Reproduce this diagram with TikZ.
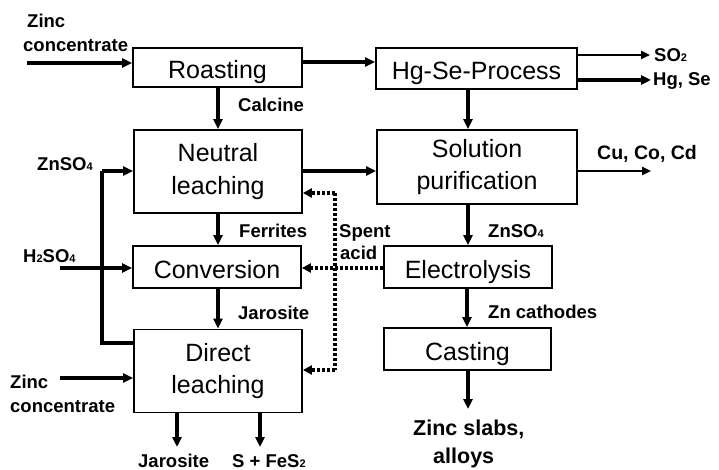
\documentclass[tikz,border=0pt]{standalone}
\usepackage{fontspec}
\setmainfont{Liberation Sans}
\usetikzlibrary{arrows.meta}
\newcommand\mysub[1]{{\fontsize{11}{11}\selectfont #1}}
\begin{document}
\begin{tikzpicture}[x=1pt,y=-1pt,
  box/.style={draw,line width=1.8pt,inner sep=0pt,align=center,
    font=\fontsize{25}{32.5}\selectfont},
  one/.style={text height=22pt,text depth=0pt},
  lbl/.style={inner sep=0pt,anchor=base west,font=\bfseries\fontsize{18.5}{22}\selectfont},
  biglbl/.style={lbl,font=\bfseries\fontsize{21.5}{24}\selectfont},
  flow/.style={line width=3.5pt,-{Triangle[length=10pt,width=9pt]}},
  thinflow/.style={line width=2.5pt,-{Triangle[length=9pt,width=8pt]}},
  plain/.style={line width=3.2pt},
  acid/.style={line width=3.5pt,dash pattern=on 3pt off 2pt,-{Triangle[length=9pt,width=9pt]}},
  acidline/.style={line width=3.5pt,dash pattern=on 3pt off 2pt}
]
\useasboundingbox (0,0) rectangle (719,470);

% boxes
\node[box,one,minimum width=169pt,minimum height=39pt] (roast) at (217.5,67.5) {Roasting};
\node[box,one,minimum width=201pt,minimum height=41pt] (hgse) at (476.5,68.5) {Hg-Se-Process};
\node[box,minimum width=168pt,minimum height=83pt] (neutral) at (218,171.5) {Neutral\\leaching};
\node[box,minimum width=200pt,minimum height=74pt] (solpur) at (477,167) {Solution\\purification};
\node[box,one,minimum width=168pt,minimum height=42pt] (conv) at (217,267) {Conversion};
\node[box,one,minimum width=168pt,minimum height=42pt] (electro) at (468,267) {Electrolysis};
\node[box,minimum width=168pt,minimum height=83pt] (direct) at (218,371) {Direct\\leaching};
\node[box,one,minimum width=167pt,minimum height=42pt] (casting) at (467.5,349) {Casting};

% labels
\node[lbl] (zc1a) at (27,28) {Zinc};
\node[lbl] (zc1b) at (23,52) {concentrate};
\node[lbl] (calcine) at (238,112) {Calcine};
\node[lbl] (so2) at (654,62) {SO\mysub{2}};
\node[lbl] (hgselbl) at (653,86) {Hg, Se};
\node[lbl,font=\bfseries\fontsize{19.5}{22}\selectfont] (cucocd) at (597,160) {Cu, Co, Cd};
\node[lbl] (znso4a) at (37,171) {ZnSO\mysub{4}};
\node[lbl] (ferrites) at (239,237) {Ferrites};
\node[lbl] (spent) at (339,237) {Spent};
\node[lbl] (acidl) at (340,259) {acid};
\node[lbl] (h2so4) at (23,262) {H\mysub{2}SO\mysub{4}};
\node[lbl] (znso4b) at (488,237) {ZnSO\mysub{4}};
\node[lbl] (jar1) at (238,319) {Jarosite};
\node[lbl] (zncath) at (488,318) {Zn cathodes};
\node[lbl] (zc2a) at (10,388) {Zinc};
\node[lbl] (zc2b) at (10,412) {concentrate};
\node[lbl] (jar2) at (138,467) {Jarosite};
\node[lbl] (sfes) at (232,467) {S + FeS\mysub{2}};
\node[biglbl] (slabs) at (413,435) {Zinc slabs,};
\node[biglbl] (alloys) at (433,463) {alloys};

% coordinates
\coordinate (zcin) at (27,63);
\coordinate (so2end) at (650,55);
\coordinate (hgend) at (651,80);
\coordinate (cuend) at (651,171);
\coordinate (zsj) at (102,171);
\coordinate (zsb) at (102,343);
\coordinate (h2in) at (60,268);
\coordinate (zc2in) at (60,378);
\coordinate (sa1) at (335,193);
\coordinate (sa3) at (335,370);
\coordinate (jarend) at (177,447);
\coordinate (sfesend) at (260,447);
\coordinate (slabend) at (468,409);

% connectors
\draw[flow] (zcin) -- (zcin -| roast.west);
\draw[flow] (roast.east |- 0,62) -- (hgse.west |- 0,62);
\draw[flow] (roast.south -| 218,0) -- (neutral.north -| 218,0);
\draw[thinflow] (so2end -| hgse.east) -- (so2end);
\draw[flow] (hgend -| hgse.east) -- (hgend);
\draw[flow] (hgse.south -| 468,0) -- (solpur.north -| 468,0);
\draw[flow] (neutral.east |- 0,171) -- (solpur.west |- 0,171);
\draw[thinflow] (cuend -| solpur.east) -- (cuend);
\draw[flow] (solpur.south -| 468,0) -- (electro.north -| 468,0);
\draw[flow] (electro.south -| 467,0) -- (casting.north -| 467,0);
\draw[flow] (casting.south -| 468,0) -- (slabend);
\draw[flow] (neutral.south -| 218,0) -- (conv.north -| 218,0);
\draw[flow] (conv.south -| 218,0) -- (direct.north -| 218,0);
\draw[flow] (zsj) -- (zsj -| neutral.west);
\draw[plain] (zsj) -- (zsb) -- (zsb -| direct.west);
\draw[flow] (h2in) -- (h2in -| conv.west);
\draw[flow] (zc2in) -- (zc2in -| direct.west);
\draw[flow] (direct.south -| jarend) -- (jarend);
\draw[flow] (direct.south -| sfesend) -- (sfesend);
% spent acid
\draw[acidline] (sa1) -- (sa3);
\draw[acid] (sa1) -- (sa1 -| neutral.east);
\draw[acid] (sa3) -- (sa3 -| direct.east);
\draw[acid] (electro.west |- 0,268) -- (conv.east |- 0,268);
\end{tikzpicture}
\end{document}
